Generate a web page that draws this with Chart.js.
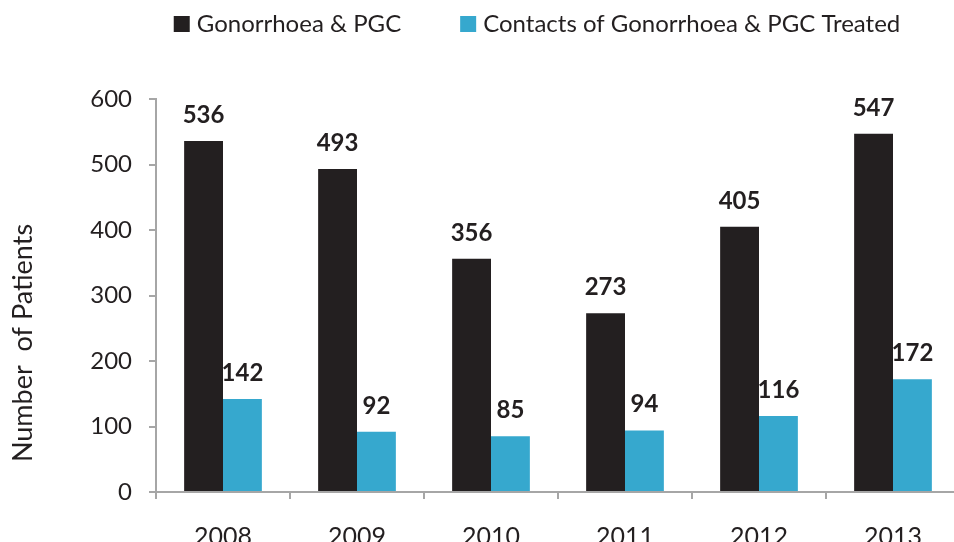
<!DOCTYPE html>
<html>
<head>
<meta charset="utf-8">
<script src="https://cdn.jsdelivr.net/npm/chart.js@4.4.1/dist/chart.umd.min.js"></script>
<style>
    html, body { margin: 0; padding: 0; overflow: hidden; background: #fff; }
    #wrap { width: 1000px; height: 542px; }
</style>
</head>
<body>
<div id="wrap"><canvas id="grafica" width="1000" height="542"></canvas></div>
<script>
var anios = ["2008", "2009", "2010", "2011", "2012", "2013"];
var gonorrea = [536, 493, 356, 273, 405, 547];
var contactos = [142, 92, 85, 94, 116, 172];
var etiquetasY = [0, 100, 200, 300, 400, 500, 600];
var tituloY = 'Number  of Patients';

var fuente = "Lato, 'Liberation Sans', sans-serif";
var colorTexto = '#231F20';
var colorEje = '#A6A6A6';

// etiquetas con el valor encima de cada barra
var valoresPlugin = {
    id: 'valores',
    afterDatasetsDraw: function (chart) {
        var ctx = chart.ctx;
        ctx.save();
        ctx.font = "bold 24px " + fuente;
        ctx.fillStyle = colorTexto;
        ctx.textAlign = 'center';
        ctx.textBaseline = 'alphabetic';
        chart.data.datasets.forEach(function (ds, i) {
            chart.getDatasetMeta(i).data.forEach(function (bar, j) {
                ctx.fillText(ds.data[j], bar.x, bar.y - 18);
            });
        });
        ctx.restore();
    }
};

// leyenda arriba y titulo del eje Y, dibujados a mano para controlar la posicion
var textosPlugin = {
    id: 'textos',
    afterDraw: function (chart) {
        var ctx = chart.ctx;
        ctx.save();
        ctx.font = "24px " + fuente;
        ctx.textBaseline = 'middle';
        var caja = 16, hueco = 7, separacion = 59;
        var total = 0;
        chart.data.datasets.forEach(function (ds, i) {
            total += caja + hueco + ctx.measureText(ds.label).width;
            if (i > 0) total += separacion;
        });
        var x = 537 - total / 2;
        chart.data.datasets.forEach(function (ds) {
            ctx.fillStyle = ds.backgroundColor;
            ctx.fillRect(x, 16, caja, caja);
            x += caja + hueco;
            ctx.fillStyle = colorTexto;
            ctx.fillText(ds.label, x, 24);
            x += ctx.measureText(ds.label).width + separacion;
        });

        // titulo del eje Y (va un poco mas abajo que el centro)
        ctx.translate(23, 343);
        ctx.rotate(-Math.PI / 2);
        ctx.font = "27px " + fuente;
        ctx.textAlign = 'center';
        ctx.fillStyle = colorTexto;
        ctx.fillText(tituloY, 0, 0);
        ctx.restore();
    }
};

var grafica = new Chart(document.getElementById("grafica"), {
    type: 'bar',
    data: {
        labels: anios,
        datasets: [{
            label: 'Gonorrhoea & PGC',
            data: gonorrea,
            backgroundColor: '#231F20'
        }, {
            label: 'Contacts of Gonorrhoea & PGC Treated',
            data: contactos,
            backgroundColor: '#36A8CE'
        }]
    },
    options: {
        responsive: false,
        animation: false,
        layout: { padding: { top: 99, right: 40, left: 0, bottom: 0 } },
        plugins: {
            legend: { display: false },
            tooltip: { enabled: false }
        },
        datasets: {
            bar: { categoryPercentage: 0.58, barPercentage: 1.0 }
        },
        scales: {
            x: {
                grid: { drawOnChartArea: false, drawTicks: true, tickLength: 7, color: colorEje, lineWidth: 2 },
                border: { color: colorEje, width: 2 },
                ticks: { color: colorTexto, font: { family: fuente, size: 25 }, padding: 23, maxRotation: 0 },
                afterFit: function (scale) { scale.height = 50; }
            },
            y: {
                min: 0,
                max: 600,
                afterBuildTicks: function (scale) {
                    scale.ticks = etiquetasY.map(function (v) { return { value: v }; });
                },
                grid: { drawOnChartArea: false, drawTicks: true, tickLength: 7, color: colorEje, lineWidth: 2 },
                border: { color: colorEje, width: 2 },
                ticks: { color: colorTexto, font: { family: fuente, size: 24 }, padding: 17 },
                afterFit: function (scale) { scale.width = 156; }
            }
        }
    },
    plugins: [valoresPlugin, textosPlugin]
});
</script>
</body>
</html>
